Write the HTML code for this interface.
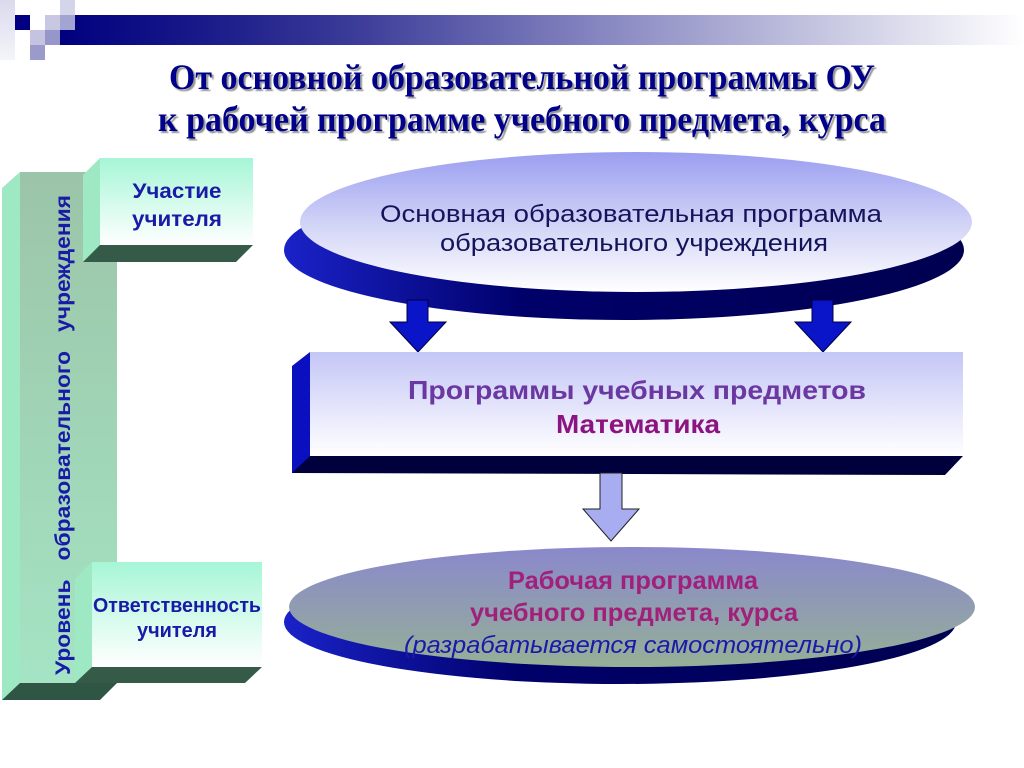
<!DOCTYPE html>
<html><head><meta charset="utf-8"><style>
html,body{margin:0;padding:0;background:#fff;width:1024px;height:768px;overflow:hidden}
svg{display:block}
</style></head><body>
<svg width="1024" height="768" viewBox="0 0 1024 768" xmlns="http://www.w3.org/2000/svg">
<defs>
<linearGradient id="bar" x1="0" x2="1" y1="0" y2="0">
<stop offset="0" stop-color="#00007e"/><stop offset="0.15" stop-color="#1a1a8a"/>
<stop offset="0.3" stop-color="#3a3a98"/><stop offset="0.58" stop-color="#8c8cc4"/>
<stop offset="0.8" stop-color="#c8c8e2"/><stop offset="1" stop-color="#ffffff"/></linearGradient>
<linearGradient id="strip" x1="0" x2="0" y1="0" y2="1"><stop offset="0" stop-color="#dadaee"/><stop offset="1" stop-color="#f4f4fa"/></linearGradient>
<linearGradient id="ell1" x1="0" x2="0" y1="0" y2="1"><stop offset="0" stop-color="#9a9ef0"/><stop offset="0.5" stop-color="#d0d2f6"/><stop offset="1" stop-color="#ffffff"/></linearGradient>
<linearGradient id="rect" x1="0" x2="0" y1="0" y2="1"><stop offset="0" stop-color="#c4c6f6"/><stop offset="1" stop-color="#ffffff"/></linearGradient>
<linearGradient id="ell2" x1="0" x2="0" y1="0" y2="1"><stop offset="0" stop-color="#8a88cc"/><stop offset="1" stop-color="#95b096"/></linearGradient>
<linearGradient id="green" x1="0" x2="0" y1="0" y2="1"><stop offset="0" stop-color="#9cc4a8"/><stop offset="1" stop-color="#a4e4c4"/></linearGradient>
<linearGradient id="box" x1="0" x2="0" y1="0" y2="1"><stop offset="0" stop-color="#a6f6d6"/><stop offset="1" stop-color="#ffffff"/></linearGradient>
<linearGradient id="shd" x1="0" x2="1" y1="0" y2="0"><stop offset="0" stop-color="#1a22c8"/><stop offset="0.35" stop-color="#00006a"/><stop offset="1" stop-color="#000050"/></linearGradient>
<filter id="sh"><feDropShadow dx="2" dy="2" stdDeviation="0.6" flood-color="#888" flood-opacity="0.9"/></filter>
</defs>

<rect x="0" y="0" width="15" height="60" fill="url(#strip)"/>
<rect x="15" y="15" width="15" height="15" fill="#000080"/>
<rect x="45" y="15" width="15" height="15" fill="#c8c8e2"/>
<rect x="60" y="0" width="15" height="15" fill="#d4d4ea"/>
<rect x="30" y="30" width="15" height="15" fill="#c4c4e2"/>
<rect x="45" y="30" width="15" height="15" fill="#9696ca"/>
<rect x="30" y="45" width="15" height="15" fill="#9a9acc"/>
<rect x="60" y="15" width="964" height="30" fill="url(#bar)"/>
<rect x="60" y="15" width="15" height="15" fill="#a4a4d2"/>

<g font-family="'Liberation Serif','Noto Serif CJK SC',serif" font-weight="bold" font-size="36" fill="#00008a" text-anchor="middle" filter="url(#sh)">
<text x="522" y="89" textLength="706" lengthAdjust="spacingAndGlyphs">От основной образовательной программы ОУ</text>
<text x="522" y="131" textLength="728" lengthAdjust="spacingAndGlyphs">к рабочей программе учебного предмета, курса</text>
</g>

<polygon points="2,188 20,172 20,700 2,700" fill="#9ee8c4"/>
<rect x="20" y="172" width="97" height="512" fill="url(#green)"/>
<polygon points="2,700 20,683 117,683 100,700" fill="#2f5545"/>
<polygon points="83,175 100,158 100,245 83,262" fill="#9ee8c4"/>
<rect x="100" y="158" width="153" height="87" fill="url(#box)"/>
<polygon points="83,262 100,245 253,245 236,262" fill="#355a48"/>
<polygon points="75,579 92,562 92,667 75,683" fill="#9ee8c4"/>
<rect x="92" y="562" width="170" height="105" fill="url(#box)"/>
<polygon points="75,683 92,667 262,667 245,683" fill="#355a48"/>

<g font-family="'Liberation Sans','Noto Sans CJK SC',sans-serif" font-weight="bold" fill="#1a1aa8" text-anchor="middle">
<text x="177" y="198" font-size="21" textLength="89" lengthAdjust="spacingAndGlyphs">Участие</text>
<text x="177" y="226" font-size="21" textLength="90" lengthAdjust="spacingAndGlyphs">учителя</text>
<text x="177" y="612" font-size="20" textLength="168" lengthAdjust="spacingAndGlyphs">Ответственность</text>
<text x="177" y="637" font-size="20" textLength="80" lengthAdjust="spacingAndGlyphs">учителя</text>
<text transform="translate(70,435) rotate(-90)" font-size="21" textLength="480" lengthAdjust="spacingAndGlyphs" xml:space="preserve">Уровень   образовательного   учреждения</text>
</g>

<ellipse cx="624" cy="250" rx="340" ry="70" fill="url(#shd)"/>
<ellipse cx="636" cy="222" rx="336" ry="70" fill="url(#ell1)"/>
<g font-family="'Liberation Sans','Noto Sans CJK SC',sans-serif" fill="#14145a" text-anchor="middle" font-size="24">
<text x="631" y="222" textLength="502" lengthAdjust="spacingAndGlyphs">Основная образовательная программа</text>
<text x="634" y="251" textLength="388" lengthAdjust="spacingAndGlyphs">образовательного учреждения</text>
</g>

<polygon points="407,300 428,300 428,322 446,322 418,352 390,322 407,322" fill="#0a14c8" stroke="#000040" stroke-width="1"/>
<polygon points="812,300 833,300 833,322 851,322 823,352 795,322 812,322" fill="#0a14c8" stroke="#000040" stroke-width="1"/>

<polygon points="292,366 310,352 310,473 292,473" fill="#0a10c0"/>
<rect x="310" y="352" width="653" height="104" fill="url(#rect)"/>
<polygon points="292,473 310,456 963,456 945,475" fill="#00003c"/>
<g font-family="'Liberation Sans','Noto Sans CJK SC',sans-serif" font-weight="bold" text-anchor="middle" font-size="26">
<text x="637" y="399" fill="#6a38a0" textLength="458" lengthAdjust="spacingAndGlyphs">Программы учебных предметов</text>
<text x="638" y="433" fill="#8c1480" textLength="164" lengthAdjust="spacingAndGlyphs">Математика</text>
</g>

<polygon points="600,473 622,473 622,509 639,509 611,541 583,509 600,509" fill="#a8acf0" stroke="#222" stroke-width="1"/>

<ellipse cx="620" cy="622" rx="336" ry="62" fill="url(#shd)"/>
<ellipse cx="632" cy="607" rx="343" ry="60" fill="url(#ell2)"/>
<g font-family="'Liberation Sans','Noto Sans CJK SC',sans-serif" text-anchor="middle">
<text x="633" y="589" font-size="25" font-weight="bold" fill="#a0207a" textLength="250" lengthAdjust="spacingAndGlyphs">Рабочая программа</text>
<text x="634" y="621" font-size="25" font-weight="bold" fill="#a0207a" textLength="328" lengthAdjust="spacingAndGlyphs">учебного предмета, курса</text>
<text x="633" y="653" font-size="24" font-style="italic" fill="#1a1aa8" textLength="458" lengthAdjust="spacingAndGlyphs">(разрабатывается самостоятельно)</text>
</g>
</svg>
</body></html>
